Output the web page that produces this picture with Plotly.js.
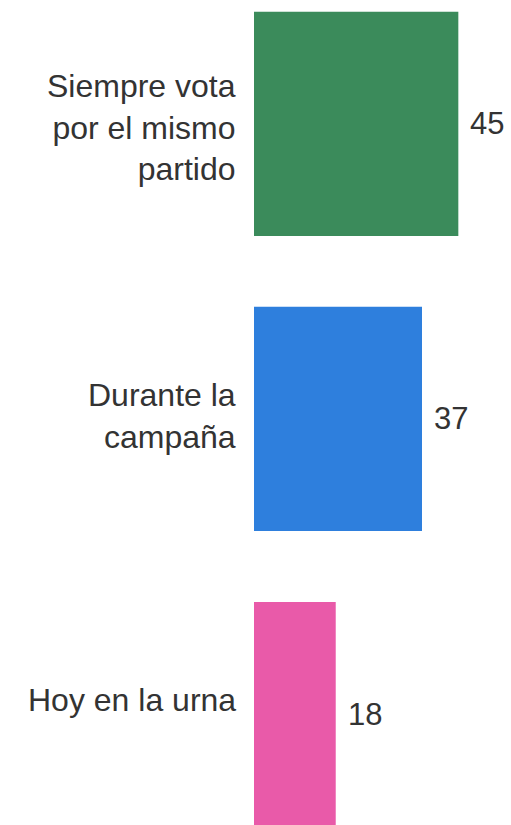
<!DOCTYPE html>
<html>
<head>
<meta charset="utf-8">
<script src="https://cdn.plot.ly/plotly-3.0.1.min.js"></script>
<style>html,body{margin:0;padding:0;background:#fff;}#chart{width:511px;height:825px;}</style>
</head>
<body>
<div id="chart"></div>
<script>
const categories = ["Siempre vota<br>por el mismo<br>partido", "Durante la<br>campaña", "Hoy en la urna"];
const values = [45, 37, 18];
const colors = ["#3b8b5b", "#2e7fdd", "#e95aa9"];
const labelShift = [-4, 3, 14];

const idx = categories.map((c, i) => i);
const font = "Liberation Sans, Arial, sans-serif";

const trace = {
  type: "bar",
  orientation: "h",
  x: values,
  y: idx,
  marker: {color: colors, line: {width: 0}},
  hoverinfo: "none"
};

const annotations = [];
idx.forEach(i => {
  annotations.push({
    xref: "paper", yref: "y", x: 0, y: i,
    xanchor: "right", yanchor: "middle", xshift: -16, yshift: labelShift[i],
    align: "right", showarrow: false, text: categories[i],
    font: {family: font, size: 32, color: "#333333"}
  });
  annotations.push({
    xref: "x", yref: "y", x: values[i], y: i,
    xanchor: "left", yanchor: "middle", xshift: 10,
    showarrow: false, text: String(values[i]),
    font: {family: font, size: 31, color: "#333333"}
  });
});

const layout = {
  width: 511, height: 825,
  margin: {l: 254, r: 0, t: 0, b: 0, pad: 0},
  paper_bgcolor: "#ffffff", plot_bgcolor: "#ffffff",
  showlegend: false,
  bargap: 0.24,
  xaxis: {range: [0, 56.6], visible: false, fixedrange: true},
  yaxis: {range: [2.376, -0.42], visible: false, fixedrange: true},
  annotations: annotations
};

Plotly.newPlot("chart", [trace], layout, {displayModeBar: false, staticPlot: true});
</script>
</body>
</html>
